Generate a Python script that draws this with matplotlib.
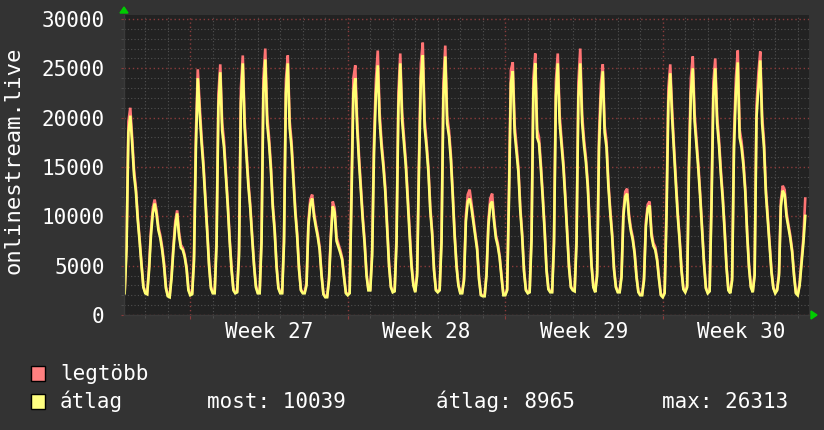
import numpy as np
import matplotlib
matplotlib.use("Agg")
import matplotlib.pyplot as plt
from matplotlib.patches import Rectangle, Polygon
from matplotlib.transforms import blended_transform_factory

# ---------------- data (values in hundreds, 2-hour samples) ----------------
# day index 0 = Monday of Week 27; first day starts at 02:00, last ends at 08:00
first_day = -3
first_hour = 2
step_h = 2

avg_days = [
    [22, 67, 185, 202, 174, 142, 125, 96, 74, 50, 28],                 # Fri
    [22, 21, 45, 80, 103, 113, 102, 86, 78, 66, 50, 27],               # Sat
    [19, 18, 37, 66, 90, 103, 80, 68, 66, 59, 47, 25],                 # Sun
    # Week 27
    [20, 21, 55, 170, 240, 205, 175, 150, 118, 85, 50, 27],
    [22, 22, 70, 210, 246, 187, 170, 140, 110, 75, 46, 25],
    [22, 23, 60, 215, 255, 190, 160, 130, 108, 78, 50, 28],
    [22, 22, 73, 225, 259, 194, 174, 147, 109, 85, 49, 27],
    [22, 22, 73, 225, 255, 190, 170, 137, 104, 80, 46, 25],
    [22, 22, 30, 90, 112, 118, 100, 89, 79, 66, 40, 21],
    [18, 18, 35, 78, 110, 104, 75, 69, 63, 56, 38, 22],
    # Week 28
    [20, 22, 120, 225, 240, 190, 155, 125, 96, 72, 40, 25],
    [25, 60, 165, 224, 253, 197, 170, 150, 125, 88, 50, 28],
    [23, 24, 73, 210, 255, 197, 174, 150, 115, 80, 49, 30],
    [23, 40, 150, 240, 263.13, 190, 170, 145, 106, 82, 45, 25],
    [23, 25, 73, 220, 262, 194, 181, 157, 120, 80, 49, 30],
    [22, 22, 35, 95, 115, 118, 108, 94, 80, 66, 36, 20],
    [19, 19, 40, 90, 112, 115, 95, 78, 70, 58, 38, 20],
    # Week 29
    [20, 25, 120, 235, 247, 185, 165, 145, 106, 80, 44, 25],
    [22, 23, 75, 225, 255, 180, 174, 148, 118, 85, 45, 26],
    [23, 23, 72, 222, 255, 195, 172, 150, 118, 82, 48, 28],
    [25, 24, 72, 220, 255, 195, 172, 155, 130, 89, 50, 28],
    [23, 40, 170, 220, 247, 185, 170, 130, 103, 80, 46, 28],
    [23, 23, 38, 100, 120, 123, 98, 85, 76, 62, 38, 23],
    [20, 20, 35, 90, 108, 111, 80, 70, 66, 55, 36, 20],
    # Week 30
    [18, 22, 100, 215, 245, 200, 165, 132, 100, 75, 45, 26],
    [23, 28, 150, 225, 250, 196, 172, 147, 118, 85, 52, 27],
    [22, 24, 110, 222, 250, 194, 172, 142, 117, 85, 48, 25],
    [22, 35, 170, 225, 256, 180, 170, 152, 125, 82, 48, 28],
    [23, 40, 200, 230, 258, 194, 170, 123, 96, 70, 43, 27],
    [22, 25, 40, 110, 126, 122, 100, 89, 78, 64, 40, 22],
    [20, 30, 52, 73, 100.39],
]

max_days = [
    [23, 72, 196, 210, 180, 147, 129, 99, 77, 52, 29],
    [23, 22, 49, 85, 108, 117, 106, 89, 81, 69, 53, 29],
    [20, 19, 41, 70, 95, 106, 84, 71, 68, 61, 49, 27],
    # Week 27
    [21, 22, 62, 184, 249, 213, 181, 155, 122, 88, 53, 29],
    [23, 23, 77, 224, 254, 195, 176, 145, 114, 78, 48, 27],
    [23, 24, 68, 230, 263, 197, 166, 135, 112, 81, 52, 30],
    [23, 23, 80, 240, 270, 203, 180, 152, 113, 88, 51, 28],
    [23, 23, 80, 238, 263, 197, 176, 142, 108, 83, 48, 26],
    [23, 23, 33, 95, 117, 122, 104, 92, 82, 69, 42, 22],
    [19, 19, 38, 83, 115, 108, 79, 72, 66, 58, 40, 23],
    # Week 28
    [21, 23, 130, 240, 253, 198, 161, 130, 100, 75, 42, 26],
    [26, 66, 178, 238, 268, 205, 176, 155, 130, 92, 53, 29],
    [24, 25, 80, 225, 265, 205, 180, 155, 120, 83, 52, 31],
    [24, 44, 162, 255, 276, 198, 176, 150, 110, 85, 47, 26],
    [24, 26, 80, 235, 273, 202, 187, 162, 124, 83, 51, 31],
    [23, 23, 38, 101, 122, 127, 113, 98, 83, 69, 38, 21],
    [20, 20, 43, 95, 118, 123, 99, 81, 73, 60, 40, 21],
    # Week 29
    [21, 26, 130, 248, 256, 193, 171, 150, 110, 83, 46, 26],
    [23, 24, 82, 240, 265, 188, 180, 153, 122, 88, 47, 27],
    [24, 24, 79, 237, 265, 203, 178, 155, 122, 85, 50, 29],
    [26, 25, 79, 236, 270, 203, 178, 160, 134, 92, 52, 29],
    [24, 44, 182, 234, 254, 192, 176, 135, 107, 83, 48, 29],
    [24, 24, 41, 105, 125, 128, 102, 88, 79, 64, 40, 24],
    [21, 21, 38, 95, 112, 115, 84, 73, 69, 57, 38, 21],
    # Week 30
    [19, 23, 110, 230, 254, 208, 171, 137, 104, 78, 47, 27],
    [24, 30, 162, 240, 262, 204, 178, 152, 122, 88, 54, 28],
    [23, 25, 120, 236, 260, 202, 178, 147, 121, 88, 50, 26],
    [23, 38, 182, 240, 268, 188, 176, 157, 129, 85, 50, 29],
    [24, 43, 212, 245, 267, 202, 176, 128, 100, 73, 45, 28],
    [23, 26, 43, 116, 131, 127, 104, 92, 81, 66, 42, 23],
    [21, 32, 56, 78, 118],
]

week_labels = ["Week 27", "Week 28", "Week 29", "Week 30"]
y_ticks = [0, 5000, 10000, 15000, 20000, 25000, 30000]
y_label = "onlinestream.live"
legend_names = ["legtöbb", "átlag"]
stats_text = ["most: 10039", "átlag: 8965", "max: 26313"]

# ---------------- build series ----------------
avg = np.concatenate([np.asarray(d, float) for d in avg_days]) * 100
mx = np.concatenate([np.asarray(d, float) for d in max_days]) * 100
t = first_day * 24 + first_hour + step_h * np.arange(len(avg))

# ---------------- style ----------------
BG = "#333333"
PLOT_BG = "#222222"
RED = "#ff7474"
YEL = "#ffff74"
MINOR = "#505050"
MAJOR = "#8a3c3c"
FONT = "DejaVu Sans Mono"
FS = 15

W, H = 824, 430
fig = plt.figure(figsize=(W / 100, H / 100), dpi=100, facecolor=BG)
L, R, T, B = 124, 809, 15, 315
ax = fig.add_axes([L / W, (H - B) / H, (R - L) / W, (B - T) / H])
ax.set_facecolor(PLOT_BG)

ax.set_xlim(-70.7, 660.0)
ax.set_ylim(0, 30400)

# grid
ax.set_yticks(y_ticks)
ax.set_yticks(np.arange(0, 30001, 1000), minor=True)
ax.set_xticks(np.arange(0, 660, 168))
ax.set_xticks(np.arange(-48, 660, 24), minor=True)
dots = (0, (1, 2))
ax.grid(which="minor", color=MINOR, linestyle=dots, linewidth=0.8)
ax.grid(which="major", color=MAJOR, linestyle=dots, linewidth=1.0)
ax.set_axisbelow(True)

ax.tick_params(axis="y", which="major", length=2, color=MAJOR, labelcolor="white",
               labelsize=FS, pad=12)
ax.tick_params(axis="y", which="minor", length=2, color=MINOR)
ax.tick_params(axis="x", which="major", length=3, color=MAJOR, labelbottom=False)
ax.tick_params(axis="x", which="minor", length=2, color=MINOR)
ax.set_yticklabels([str(v) for v in y_ticks], family=FONT)

for s in ["top", "right"]:
    ax.spines[s].set_visible(False)
for s in ["left", "bottom"]:
    ax.spines[s].set_color("#3a3a3a")
    ax.spines[s].set_linewidth(1)

# lines
ax.plot(t, mx, color=RED, lw=1.9, solid_joinstyle="miter")
ax.plot(t, avg, color=YEL, lw=1.9, solid_joinstyle="miter")

# week labels in middle of weeks
trans = blended_transform_factory(ax.transData, fig.transFigure)
for i, lab in enumerate(week_labels):
    ax.text(84 + 168 * i, 1 - 338 / H, lab, transform=trans, ha="center",
            va="baseline", color="white", fontsize=FS, family=FONT, clip_on=False)

# y label
fig.text(14 / W, 1 - 160 / H, y_label, rotation=90, ha="center", va="center",
         color="white", fontsize=16, family=FONT)

# green arrows
fig.patches.append(Polygon([[120 / W, 1 - 13 / H], [128 / W, 1 - 13 / H], [124 / W, 1 - 7 / H]],
                           closed=True, transform=fig.transFigure, color="#00cc00"))
fig.patches.append(Polygon([[811 / W, 1 - 311 / H], [811 / W, 1 - 319 / H], [817 / W, 1 - 315 / H]],
                           closed=True, transform=fig.transFigure, color="#00cc00"))

# legend
for (y0, col, name) in [(366, "#ff8080", legend_names[0]), (394, "#ffff80", legend_names[1])]:
    fig.patches.append(Rectangle((31 / W, 1 - (y0 + 15) / H), 14 / W, 15 / H,
                                 transform=fig.transFigure, facecolor=col,
                                 edgecolor="black", linewidth=1))
    fig.text(60 / W, 1 - (y0 + 14) / H, name, ha="left", va="baseline",
             color="white", fontsize=FS, family=FONT)
for x0, s in zip([207, 436, 662], stats_text):
    fig.text(x0 / W, 1 - 408 / H, s, ha="left", va="baseline",
             color="white", fontsize=FS, family=FONT)

fig.savefig("out.png", dpi=100, facecolor=BG)
